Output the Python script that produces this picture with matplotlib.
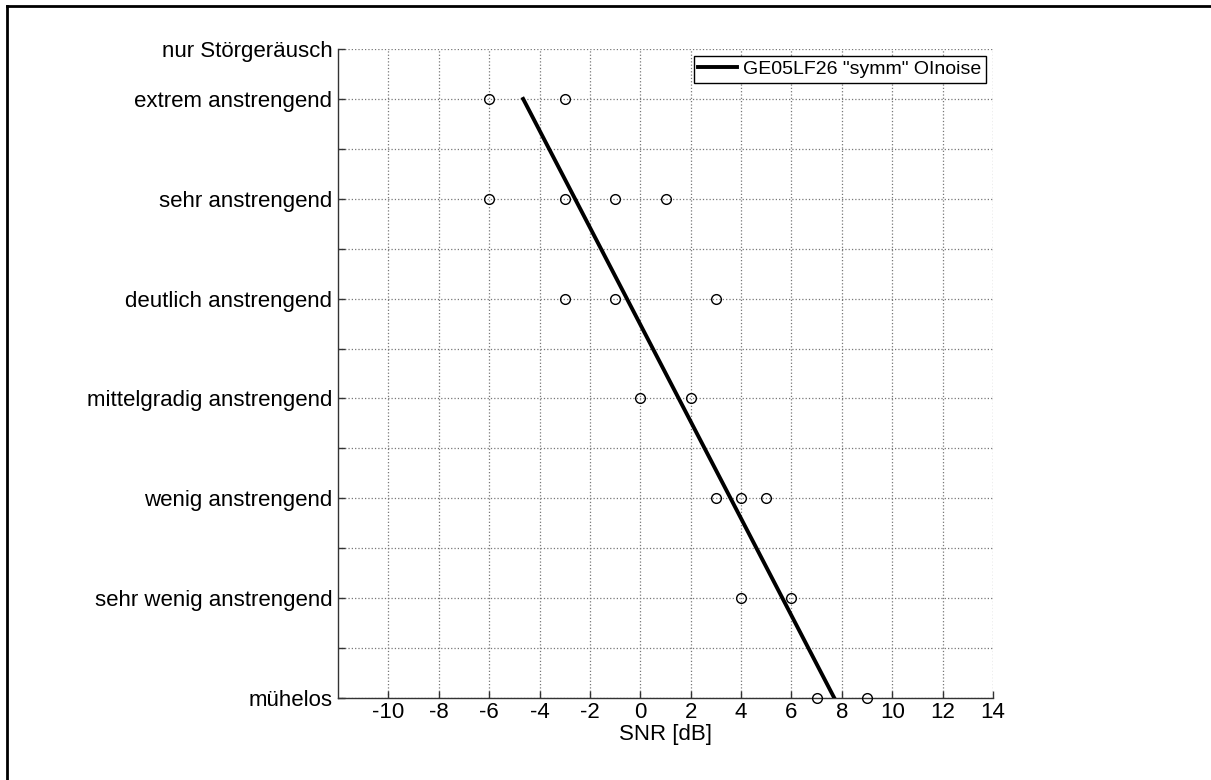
import matplotlib.pyplot as plt
from matplotlib.lines import Line2D

plt.rcParams['font.family'] = ['Liberation Sans', 'DejaVu Sans']

# rating scale (y positions) and their labels
scale_pos = [1, 2, 3, 4, 5, 6, 7, 8, 9, 10, 11, 12, 13, 14]
scale_labels = ['mühelos', '', 'sehr wenig anstrengend', '', 'wenig anstrengend', '',
                'mittelgradig anstrengend', '', 'deutlich anstrengend', '',
                'sehr anstrengend', '', 'extrem anstrengend', 'nur Störgeräusch']

# individual responses: SNR [dB] and rating
resp_snr = [-6, -3, -6, -3, -1, 1, -3, -1, 3, 0, 2, 3, 4, 5, 4, 6, 7, 9]
resp_rating = [13, 13, 11, 11, 11, 11, 9, 9, 9, 7, 7, 5, 5, 5, 3, 3, 1, 1]

# fitted function
fit_snr = [-4.65, 7.7]
fit_rating = [13, 1]

snr_ticks = [-10, -8, -6, -4, -2, 0, 2, 4, 6, 8, 10, 12, 14]

fig = plt.figure(figsize=(12.11, 7.8), dpi=100)
ax = fig.add_axes([338 / 1211, 1 - 698 / 780, 655 / 1211, 649 / 780])

ax.plot(fit_snr, fit_rating, color='black', linewidth=2.8,
        label='GE05LF26 "symm" OInoise', zorder=3)
ax.plot(resp_snr, resp_rating, linestyle='none', marker='o', markersize=7,
        markerfacecolor='none', markeredgecolor='black', markeredgewidth=1.0,
        clip_on=False, zorder=4)

ax.set_xlim(-12, 14)
ax.set_ylim(1, 14)
ax.set_xticks(snr_ticks)
ax.set_xticklabels([str(t) for t in snr_ticks])
ax.set_yticks(scale_pos)
ax.set_yticklabels(scale_labels)
ax.tick_params(axis='both', direction='in', length=5, width=1, colors='#333333',
               labelcolor='black', labelsize=16)
ax.tick_params(axis='x', pad=3)
ax.tick_params(axis='y', pad=4)

ax.grid(True, linestyle=':', color='#777777', linewidth=0.9)
ax.spines['top'].set_visible(False)
ax.spines['right'].set_visible(False)
for s in ['left', 'bottom']:
    ax.spines[s].set_color('#333333')
    ax.spines[s].set_linewidth(1.0)

ax.set_xlabel('SNR [dB]', fontsize=16, labelpad=0.5)

leg = ax.legend(loc='upper right', fontsize=14, frameon=True, fancybox=False,
                framealpha=1, edgecolor='black', handlelength=2.0,
                borderaxespad=0.35, borderpad=0.25, handletextpad=0.3)
leg.get_frame().set_linewidth(1.0)

# figure frame (only left and top edges visible)
fig.add_artist(Line2D([6.5 / 1211, 6.5 / 1211], [0, 1 - 5.5 / 780],
                      transform=fig.transFigure, color='black', linewidth=2))
fig.add_artist(Line2D([6.5 / 1211, 1], [1 - 5.5 / 780, 1 - 5.5 / 780],
                      transform=fig.transFigure, color='black', linewidth=2))

fig.savefig('out.png', dpi=100, facecolor='white')
